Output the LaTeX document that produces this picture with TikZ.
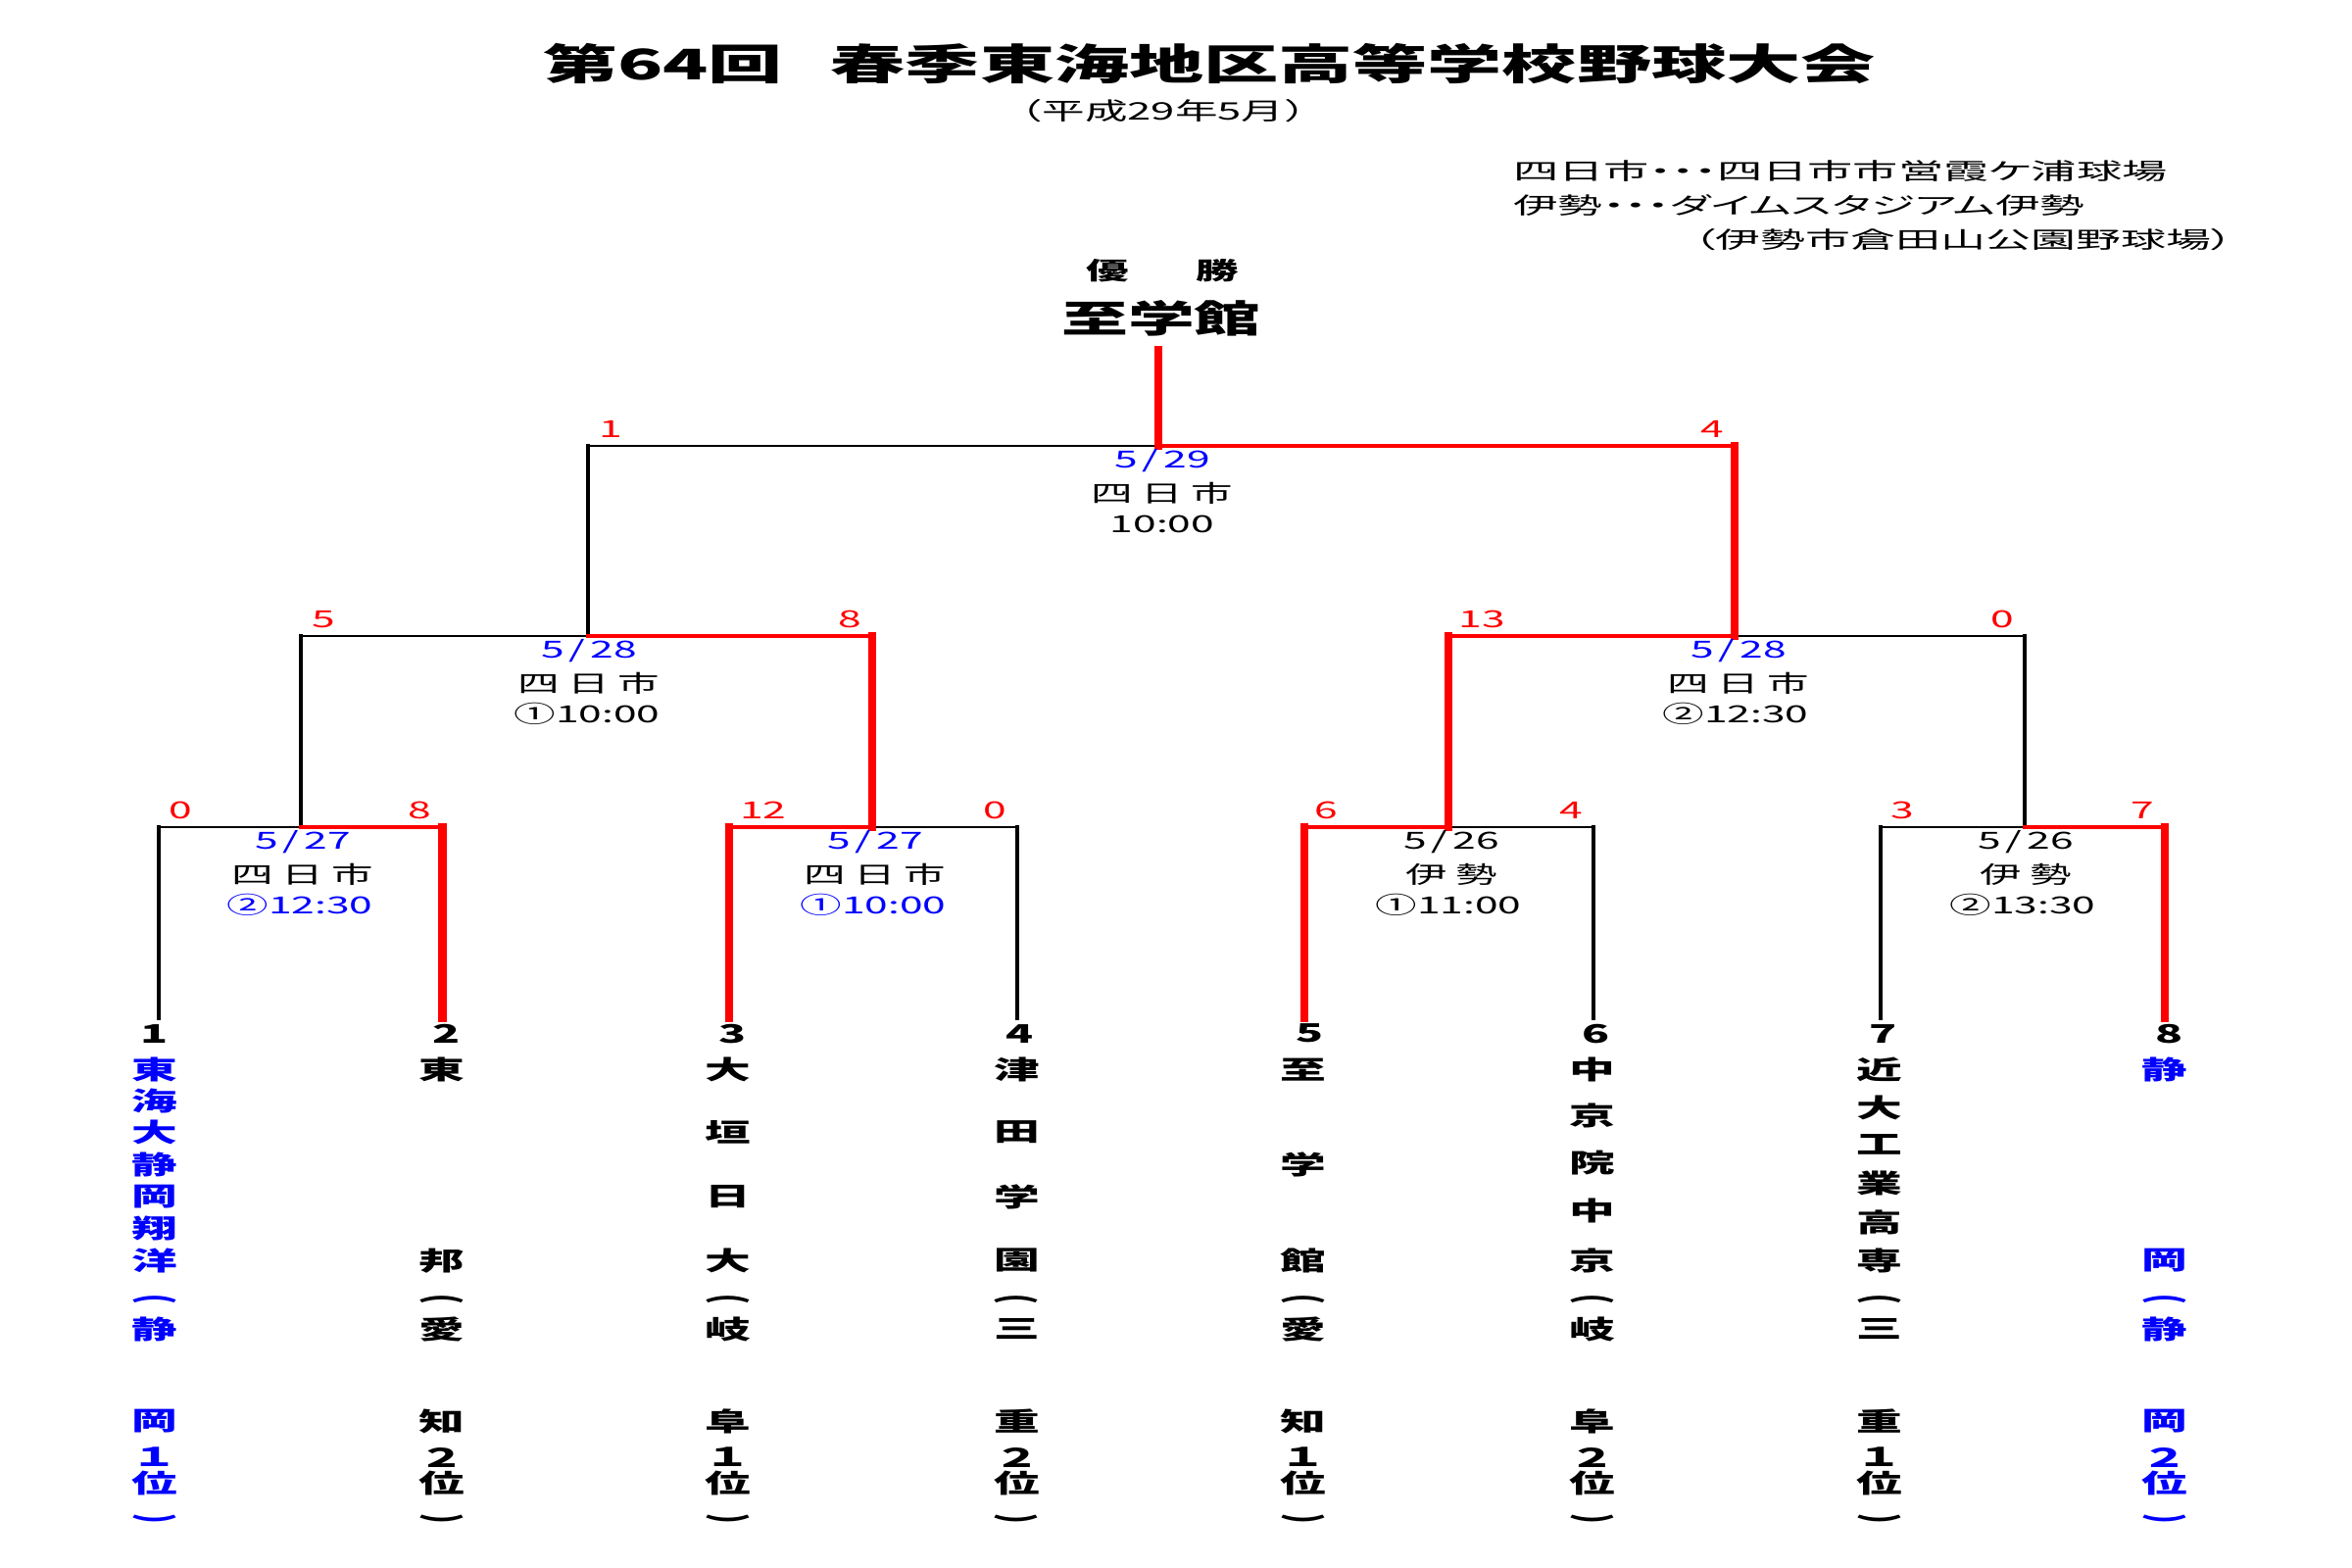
\documentclass[tikz,border=0pt]{standalone}
\usepackage{fontspec}
\setmainfont{Noto Sans CJK JP}[FakeStretch=1.77]
\newfontfamily\plainjp{Noto Sans CJK JP}
\newfontfamily\legendfont{Noto Sans CJK JP}[FakeStretch=1.77,RawFeature=+palt]
\definecolor{rd}{RGB}{255,0,0}
\definecolor{bl}{RGB}{0,0,255}
\newcommand\vk{\kern2.4pt}
\newcommand\dslash{\kern1.5pt/\kern1.5pt}
\newcommand\vpl{\scalebox{1.6}[1]{\rotatebox{-90}{\plainjp (}}}
\newcommand\vpr{\scalebox{1.6}[1]{\rotatebox{-90}{\plainjp )}}}
\newcommand\teamcol[4]{%
  \foreach \yy/\tc [count=\i] in {#4}{\node[team,text=#3] (#1-\i) at (#2,\yy) {\tc};}}
\begin{document}
\begin{tikzpicture}[x=0.01cm,y=-0.01cm,
  every node/.style={inner sep=0pt,outer sep=0pt},
  lbl/.style={font=\fontsize{6.83pt}{7pt}\selectfont},
  score/.style={lbl,text=rd},
  team/.style={font=\bfseries\fontsize{7.5pt}{8pt}\selectfont},
  seed/.style={font=\bfseries\fontsize{7.4pt}{8pt}\selectfont},
  legend/.style={font=\fontsize{6.66pt}{7pt}\selectfont},
  hb/.style={line width=0.57pt,draw=black,line cap=rect},
  vb/.style={line width=1.14pt,draw=black,line cap=rect},
  hr/.style={line width=1.22pt,draw=rd,line cap=rect},
  vr/.style={line width=2.28pt,draw=rd,line cap=rect}]
\fill[white] (0,0) rectangle (2400,1600);
\useasboundingbox (0,0) rectangle (2400,1600);

% ---- headings
\node[font=\bfseries\fontsize{12.23pt}{14pt}\selectfont,anchor=west] (title) at (554,65) {第64回\hspace{13.9pt}春季東海地区高等学校野球大会};
\node[font=\fontsize{7pt}{8pt}\selectfont] (sub) at (1187,113) {（平成29年5月）};
\node[legend,anchor=west] (lg1) at (1544,175) {\resizebox{189.8pt}{\height}{\legendfont 四日市・・・四日市市営霞ケ浦球場}};
\node[legend,anchor=west] (lg2) at (1544,210) {\resizebox{165.9pt}{\height}{\legendfont 伊勢・・・ダイムスタジアム伊勢}};
\node[legend] (lg3) at (2003.5,245) {\resizebox{156.8pt}{\height}{\legendfont （伊勢市倉田山公園野球場）}};
\node[font=\bfseries\fontsize{7pt}{8pt}\selectfont] (yusho) at (1186,276) {優\hspace{19.5pt}勝};
\node[font=\bfseries\fontsize{10.9pt}{12pt}\selectfont] (champ) at (1185,325) {至学館};

% ---- bracket coordinates
\coordinate (c) at (1182,357);
\coordinate (fL) at (600,455);   \coordinate (fM) at (1182,455);  \coordinate (fR) at (1770,455);
\coordinate (s1L) at (307.3,649); \coordinate (s1M) at (600,649);  \coordinate (s1R) at (890,649);
\coordinate (s2L) at (1477.6,649); \coordinate (s2M) at (1770,649); \coordinate (s2R) at (2065.8,649);
\coordinate (q1L) at (161.6,844); \coordinate (q1M) at (307.3,844); \coordinate (q1R) at (451.5,844);
\coordinate (q2L) at (744.3,844); \coordinate (q2M) at (890,844);   \coordinate (q2R) at (1038.4,844);
\coordinate (q3L) at (1330.5,844); \coordinate (q3M) at (1477.6,844); \coordinate (q3R) at (1626,844);
\coordinate (q4L) at (1918.8,844); \coordinate (q4M) at (2065.8,844); \coordinate (q4R) at (2209.4,844);
\coordinate (b1) at (161.6,1039); \coordinate (b2) at (451.5,1039);
\coordinate (b3) at (744.3,1039); \coordinate (b4) at (1038.4,1039);
\coordinate (b5) at (1330.5,1039); \coordinate (b6) at (1626,1039);
\coordinate (b7) at (1918.8,1039); \coordinate (b8) at (2209.4,1039);

% ---- black (losing) lines
\draw[hb] (fL) -- (fM);
\draw[hb] (s1L) -- (s1M);
\draw[hb] (s2M) -- (s2R);
\draw[hb] (q1L) -- (q1M);
\draw[hb] (q2M) -- (q2R);
\draw[hb] (q3M) -- (q3R);
\draw[hb] (q4L) -- (q4M);
\draw[vb] (fL) -- (s1M);
\draw[vb] (s1L) -- (q1M);
\draw[vb] (s2R) -- (q4M);
\draw[vb] (q1L) -- (b1);
\draw[vb] (q2R) -- (b4);
\draw[vb] (q3R) -- (b6);
\draw[vb] (q4L) -- (b7);

% ---- red (winning) lines
\draw[hr] (fM) -- (fR);
\draw[hr] (s1M) -- (s1R);
\draw[hr] (s2L) -- (s2M);
\draw[hr] (q1M) -- (q1R);
\draw[hr] (q2L) -- (q2M);
\draw[hr] (q3L) -- (q3M);
\draw[hr] (q4M) -- (q4R);
\draw[vr] (c) -- (fM);
\draw[vr] (fR) -- (s2M);
\draw[vr] (s1R) -- (q2M);
\draw[vr] (s2L) -- (q3M);
\draw[vr] (q1R) -- (b2);
\draw[vr] (q2L) -- (b3);
\draw[vr] (q3L) -- (b5);
\draw[vr] (q4R) -- (b8);

% ---- scores
\node[score,anchor=west] (sf1) at (611,438) {1};
\node[score,anchor=east] (sf2) at (1759,438) {4};
\node[score,anchor=west] (ss1a) at (318.3,632) {5};
\node[score,anchor=east] (ss1b) at (879,632) {8};
\node[score,anchor=west] (ss2a) at (1488.6,632) {13};
\node[score,anchor=east] (ss2b) at (2054.8,632) {0};
\node[score,anchor=west] (sq1a) at (172.6,827) {0};
\node[score,anchor=east] (sq1b) at (440.5,827) {8};
\node[score,anchor=west] (sq2a) at (755.3,827) {12};
\node[score,anchor=east] (sq2b) at (1027.4,827) {0};
\node[score,anchor=west] (sq3a) at (1341.5,827) {6};
\node[score,anchor=east] (sq3b) at (1615,827) {4};
\node[score,anchor=west] (sq4a) at (1929.8,827) {3};
\node[score,anchor=east] (sq4b) at (2198.4,827) {7};

% ---- match information
\node[lbl,text=bl] (fd) at (1186,470.5) {5\dslash 29};
\node[lbl] (fv) at (1186,503) {四\vk 日\vk 市};
\node[lbl] (ft) at (1186,534.5) {10:00};
\node[lbl,text=bl] (s1d) at (601,664.5) {5\dslash 28};
\node[lbl] (s1v) at (601,697) {四\vk 日\vk 市};
\node[lbl] (s1t) at (599,728.5) {①10:00};
\node[lbl,text=bl] (s2d) at (1774,664.5) {5\dslash 28};
\node[lbl] (s2v) at (1774,697) {四\vk 日\vk 市};
\node[lbl] (s2t) at (1771,728.5) {②12:30};
\node[lbl,text=bl] (q1d) at (309,859.5) {5\dslash 27};
\node[lbl] (q1v) at (309,892) {四\vk 日\vk 市};
\node[lbl,text=bl] (q1t) at (306,923.5) {②12:30};
\node[lbl,text=bl] (q2d) at (893,859.5) {5\dslash 27};
\node[lbl] (q2v) at (893,892) {四\vk 日\vk 市};
\node[lbl,text=bl] (q2t) at (891,923.5) {①10:00};
\node[lbl] (q3d) at (1481,859.5) {5\dslash 26};
\node[lbl] (q3v) at (1481,892) {伊\vk 勢};
\node[lbl] (q3t) at (1478,923.5) {①11:00};
\node[lbl] (q4d) at (2067,859.5) {5\dslash 26};
\node[lbl] (q4v) at (2067,892) {伊\vk 勢};
\node[lbl] (q4t) at (2064,923.5) {②13:30};

% ---- seeds
\node[seed] (n1) at (158,1054.6) {1};
\node[seed] (n2) at (456,1054.6) {2};
\node[seed] (n3) at (748,1054.6) {3};
\node[seed] (n4) at (1040.5,1054.6) {4};
\node[seed] (n5) at (1336.5,1054.6) {5};
\node[seed] (n6) at (1628.6,1054.6) {6};
\node[seed] (n7) at (1921,1054.6) {7};
\node[seed] (n8) at (2213,1054.6) {8};

% ---- teams (vertical text)
\teamcol{tA}{158}{bl}{1091.2/東,1123.3/海,1155.4/大,1188/静,1221.1/岡,1253.2/翔,1286.3/洋,1326/\vpl,1356/静,1450/岡,1487/１,1513/位,1550/\vpr}
\teamcol{tB}{450.5}{black}{1091.2/東,1286.3/邦,1326/\vpl,1356/愛,1450/知,1487/２,1513/位,1550/\vpr}
\teamcol{tC}{743.3}{black}{1091.2/大,1155.4/垣,1221.1/日,1286.3/大,1326/\vpl,1356/岐,1450/阜,1487/１,1513/位,1550/\vpr}
\teamcol{tD}{1037.4}{black}{1091.2/津,1155.4/田,1221.1/学,1286.3/園,1326/\vpl,1356/三,1450/重,1487/２,1513/位,1550/\vpr}
\teamcol{tE}{1329.5}{black}{1091.2/至,1188/学,1286.3/館,1326/\vpl,1356/愛,1450/知,1487/１,1513/位,1550/\vpr}
\teamcol{tF}{1625}{black}{1091.2/中,1138.6/京,1187/院,1235.3/中,1286.3/京,1326/\vpl,1356/岐,1450/阜,1487/２,1513/位,1550/\vpr}
\teamcol{tG}{1917.8}{black}{1091.2/近,1130/大,1168/工,1207.3/業,1247/高,1286.3/専,1326/\vpl,1356/三,1450/重,1487/１,1513/位,1550/\vpr}
\teamcol{tH}{2208.4}{bl}{1091.2/静,1286.3/岡,1326/\vpl,1356/静,1450/岡,1487/２,1513/位,1550/\vpr}
\end{tikzpicture}
\end{document}
